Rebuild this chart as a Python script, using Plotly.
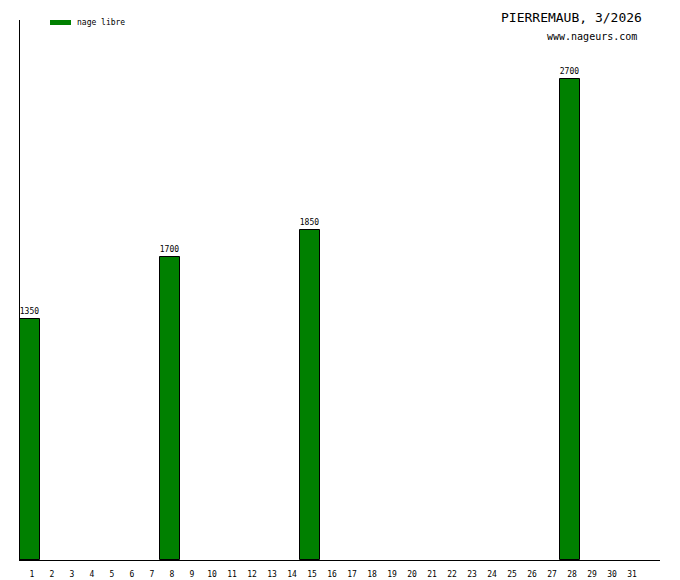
import plotly.graph_objects as go

days = list(range(1, 32))
bar_days = [1, 8, 15, 28]
bar_values = [1350, 1700, 1850, 2700]
series_name = "nage libre"
title_text = "PIERREMAUB, 3/2026"
site_text = "www.nageurs.com"

# page body has an 8px default margin; compensate
fig = go.Figure()
fig.add_trace(go.Bar(
    x=bar_days, y=bar_values, width=1,
    marker=dict(color="#008000", line=dict(color="black", width=1)),
    text=[str(v) for v in bar_values], textposition="outside",
    textfont=dict(family="DejaVu Sans Mono", size=8, color="black"),
    cliponaxis=False, showlegend=False, name=series_name,
))

fig.update_layout(
    width=672, height=572,
    margin=dict(l=12, r=20, t=12, b=20, pad=0, autoexpand=False),
    paper_bgcolor="white", plot_bgcolor="white",
    bargap=0,
    xaxis=dict(range=[0.5, 32.5], tickmode="array", tickvals=days,
               ticktext=[str(d) for d in days], showline=True, linecolor="black",
               linewidth=1, showgrid=False, zeroline=False, ticks="",
               automargin=False,
               ticklabelstandoff=6, ticklabelshift=2,
               tickfont=dict(family="DejaVu Sans Mono", size=8, color="black")),
    yaxis=dict(range=[0, 3031], showline=True, linecolor="black", linewidth=1,
               showgrid=False, zeroline=False, showticklabels=False, ticks="",
               automargin=False),
    uniformtext=dict(minsize=8, mode="show"),
)

fig.add_shape(type="rect", xref="paper", yref="paper",
              x0=30/640, x1=51/640, y0=1-(20-20)/540, y1=1-(25-20)/540,
              fillcolor="#008000", line=dict(width=0))
fig.add_annotation(text=series_name, xref="paper", yref="paper",
                   x=55/640, y=1-(22.5-20)/540, xanchor="left", yanchor="middle",
                   showarrow=False, font=dict(family="DejaVu Sans Mono", size=8, color="black"))
fig.add_annotation(text=title_text, xref="paper", yref="paper",
                   x=(644-20)/640, y=1-(18-20)/540, xanchor="right", yanchor="middle",
                   showarrow=False, font=dict(family="DejaVu Sans Mono", size=13, color="black"))
fig.add_annotation(text=site_text, xref="paper", yref="paper",
                   x=(639-20)/640, y=1-(37-20)/540, xanchor="right", yanchor="middle",
                   showarrow=False, font=dict(family="DejaVu Sans Mono", size=10, color="black"))

fig.write_html("out.html")
